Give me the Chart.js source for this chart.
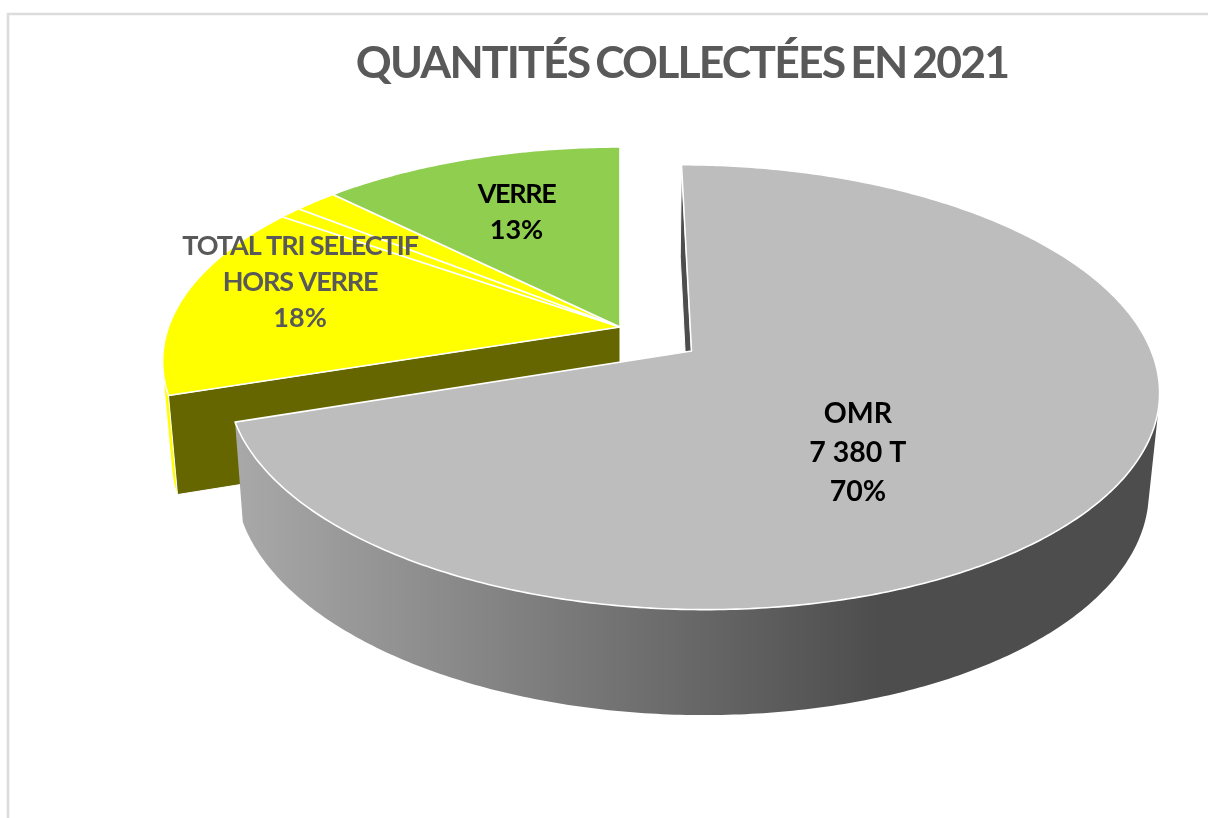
<!DOCTYPE html>
<html lang="fr">
<head>
<meta charset="utf-8">
<title>Quantités collectées en 2021</title>
<script src="https://cdn.jsdelivr.net/npm/chart.js@4"></script>
<style>
html,body{margin:0;padding:0;background:#fff;overflow:hidden}
canvas{display:block}
</style>
</head>
<body>
<canvas id="c" width="1208" height="818"></canvas>
<script>
// ---- data (tonnes), clockwise from the left edge of the yellow block
const categories = ["TRI SELECTIF A", "TRI SELECTIF B", "TRI SELECTIF C", "VERRE", "OMR"];
const tonnes = [1565, 95, 190, 1320, 7380];
const sliceColours = ["#FFFF00", "#FFFF00", "#FFFF00", "#8FCE4F", "#BDBDBD"];
const explosionPercent = [0, 0, 0, 0, 19.2];
const chartTitle = "QUANTITÉS COLLECTÉES EN 2021";

// ---- printed labels: which slices each one sums, and what it prints
const labelGroups = [
  {name: ["OMR"], slices: [4], showTonnes: true, colour: "#000000", clockDeg: 143.3, radius: 0.544, size: 28.5, lineGap: 39, tracking: 0},
  {name: ["TOTAL TRI SELECTIF", "HORS VERRE"], slices: [0, 1, 2], showTonnes: false, colour: "#595959", clockDeg: 286.9, radius: 0.767, size: 27, lineGap: 36, tracking: -1.1},
  {name: ["VERRE"], slices: [3], showTonnes: false, colour: "#000000", clockDeg: 337.4, radius: 0.654, size: 27, lineGap: 36, tracking: -1.4}
];

// ---- 3D view of the disc: a perspective tilt, with a lower rim for the extrusion
const VIEW = {x0: 620, y0: 327, A: 451.5, B: 208.8, k: 0.16, drop: 97, sx: 0.98, sy: 1.03};
const FACE_COLOUR = {"#FFFF00": "#666600", "#8FCE4F": "#4F7A28", "#BDBDBD": "#4D4D4D"};

function project(u, v, low) {
  const w = 1 - VIEW.k * v;
  const px = VIEW.A * u / w, py = VIEW.B * v / w;
  return low
    ? [VIEW.x0 + px * VIEW.sx, VIEW.y0 + VIEW.drop + py * VIEW.sy]
    : [VIEW.x0 + px, VIEW.y0 + py];
}
function tracePoly(ctx, pts) {
  pts.forEach((p, i) => i ? ctx.lineTo(p[0], p[1]) : ctx.moveTo(p[0], p[1]));
  ctx.closePath();
}
function polygon(ctx, pts) {
  ctx.beginPath();
  tracePoly(ctx, pts);
}
function area(pts) {
  let s = 0;
  pts.forEach((p, i) => { const q = pts[(i + 1) % pts.length]; s += p[0] * q[1] - q[0] * p[1]; });
  return s;
}

// Arcs keep the geometry Chart.js computed from the data; only the drawing becomes 3D.
Chart.ArcElement.prototype.draw = function (ctx) {
  const {startAngle, endAngle} = this.getProps(["startAngle", "endAngle"]);
  const o = this.options, mid = (startAngle + endAngle) / 2;
  const off = (o.offset || 0) / 100;
  const du = Math.cos(mid) * off, dv = Math.sin(mid) * off;
  const rim = low => {
    const pts = [], n = Math.max(2, Math.ceil((endAngle - startAngle) * 90));
    for (let i = 0; i <= n; i++) {
      const a = startAngle + (endAngle - startAngle) * i / n;
      pts.push(project(du + Math.cos(a), dv + Math.sin(a), low));
    }
    return pts;
  };
  const top = rim(false), low = rim(true);
  const apexT = project(du, dv, false), apexB = project(du, dv, true);

  ctx.save();
  // outer wall: only the quads that face the viewer, all in one path so no seams
  let wall = o.backgroundColor;
  if (o.backgroundColor === "#BDBDBD") {
    wall = ctx.createLinearGradient(240, 0, 880, 0);
    wall.addColorStop(0, "#A8A8A8");
    wall.addColorStop(1, "#4D4D4D");
  }
  ctx.beginPath();
  for (let i = 0; i < top.length - 1; i++) {
    const q = [top[i], top[i + 1], low[i + 1], low[i]];
    if (area(q) < 0) tracePoly(ctx, q);
  }
  ctx.fillStyle = wall;
  ctx.fill("nonzero");

  // radial cut faces: only where this slice stands clear of its neighbour
  const i = this.$context.index, dsMeta = this.$context.chart.getDatasetMeta(0).data;
  const n = dsMeta.length;
  const prevOff = dsMeta[(i - 1 + n) % n].options.offset || 0;
  const nextOff = dsMeta[(i + 1) % n].options.offset || 0;
  const own = o.offset || 0;
  const faces = [
    {q: [apexT, top[0], low[0], apexB], sign: -1, exposed: own !== prevOff},
    {q: [apexT, top[top.length - 1], low[low.length - 1], apexB], sign: 1, exposed: own !== nextOff}
  ];
  faces.forEach(f => {
    if (f.exposed && area(f.q) * f.sign > 0) {
      polygon(ctx, f.q);
      ctx.fillStyle = FACE_COLOUR[o.backgroundColor];
      ctx.fill();
      ctx.strokeStyle = "#FFFFFF"; ctx.lineWidth = 1; ctx.stroke();
    }
  });
  // top face
  polygon(ctx, [apexT].concat(top));
  ctx.fillStyle = o.backgroundColor;
  ctx.fill();
  ctx.strokeStyle = o.borderColor; ctx.lineWidth = o.borderWidth; ctx.lineJoin = "round";
  ctx.stroke();
  ctx.restore();
};

const frame = {
  id: "frame",
  beforeDraw(chart) {
    const c = chart.ctx;
    c.save();
    c.fillStyle = "#FFFFFF"; c.fillRect(0, 0, chart.width, chart.height);
    c.strokeStyle = "#DCDCDC"; c.lineWidth = 2.5;
    c.strokeRect(8, 14, chart.width + 20, chart.height + 20);
    c.restore();
    c.wordSpacing = "-3px";
    c.letterSpacing = "-1.85px";
  }
};

const sliceLabels = {
  id: "sliceLabels",
  afterDatasetsDraw(chart) {
    const c = chart.ctx, arcs = chart.getDatasetMeta(0).data;
    const total = tonnes.reduce((a, b) => a + b, 0);
    c.save();
    c.wordSpacing = "0px";
    c.textAlign = "center"; c.textBaseline = "middle";
    labelGroups.forEach(g => {
      const sum = g.slices.reduce((a, i) => a + tonnes[i], 0);
      const lines = g.name.map(t => ({t, spaced: true}));
      if (g.showTonnes) lines.push({t: String(sum).replace(/\B(?=(\d{3})+$)/g, " ") + " T", spaced: false});
      lines.push({t: Math.round(sum / total * 100) + "%", spaced: false});
      const arc = arcs[g.slices[0]];
      const mid = (arc.startAngle + arc.endAngle) / 2, off = (arc.options.offset || 0) / 100;
      const a = g.clockDeg * Math.PI / 180 - Math.PI / 2;
      const p = project(Math.cos(mid) * off + g.radius * Math.cos(a),
                        Math.sin(mid) * off + g.radius * Math.sin(a), false);
      c.fillStyle = g.colour;
      c.font = "bold " + g.size + "px Lato";
      lines.forEach((l, i) => {
        c.letterSpacing = (l.spaced ? g.tracking : 0) + "px";
        c.fillText(l.t, p[0], p[1] + (i - (lines.length - 1) / 2) * g.lineGap);
      });
    });
    c.restore();
  }
};

const omrIndex = categories.indexOf("OMR");
new Chart(document.getElementById("c"), {
  type: "pie",
  data: {
    labels: categories,
    datasets: [{
      data: tonnes,
      backgroundColor: sliceColours,
      borderColor: "#FFFFFF",
      borderWidth: 1.6,
      offset: explosionPercent
    }]
  },
  options: {
    responsive: false,
    animation: false,
    devicePixelRatio: 1,
    rotation: 360 * tonnes[omrIndex] / tonnes.reduce((a, b) => a + b, 0),
    layout: {padding: {left: 156, top: 37}},
    plugins: {
      legend: {display: false},
      tooltip: {enabled: false},
      title: {
        display: true,
        text: chartTitle,
        color: "#595959",
        font: {family: "Lato", size: 44.5, weight: "bold"},
        padding: {top: 0, bottom: 20}
      }
    }
  },
  plugins: [frame, sliceLabels]
});
</script>
</body>
</html>
